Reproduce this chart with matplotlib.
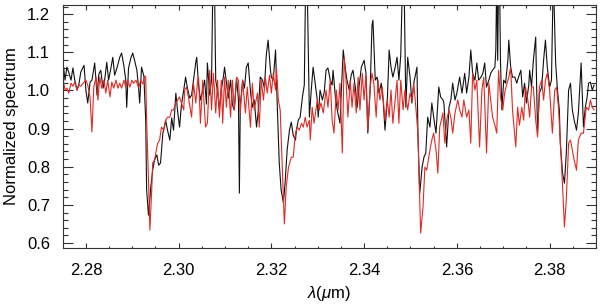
import matplotlib
matplotlib.use("Agg")
import matplotlib.pyplot as plt
from matplotlib.ticker import MultipleLocator

plt.rcParams['font.family'] = ['Liberation Sans', 'DejaVu Sans']
plt.rcParams['mathtext.fontset'] = 'custom'
plt.rcParams['mathtext.it'] = 'Liberation Sans:italic'
plt.rcParams['mathtext.rm'] = 'Liberation Sans'

# Observed spectrum (black)
obs_wl = [
    2.2751, 2.2755, 2.2759, 2.2763, 2.2768, 2.2772, 2.2776, 2.2781, 2.2785, 2.2789,
    2.2796, 2.2800, 2.2804, 2.2809, 2.2813, 2.2819, 2.2824, 2.2828, 2.2832, 2.2837,
    2.2841, 2.2845, 2.2849, 2.2854, 2.2858, 2.2862, 2.2867, 2.2873, 2.2877, 2.2882,
    2.2886, 2.2888, 2.2892, 2.2897, 2.2901, 2.2905, 2.2910, 2.2914, 2.2916, 2.2920,
    2.2925, 2.2929, 2.2931, 2.2935, 2.2940, 2.2944, 2.2948, 2.2953, 2.2957, 2.2961,
    2.2966, 2.2970, 2.2972, 2.2976, 2.2981, 2.2985, 2.2989, 2.2994, 2.2998, 2.3002,
    2.3006, 2.3011, 2.3015, 2.3019, 2.3024, 2.3028, 2.3032, 2.3037, 2.3039, 2.3043,
    2.3047, 2.3052, 2.3056, 2.3060, 2.3062, 2.3067, 2.3071, 2.3074, 2.3077, 2.3080,
    2.3084, 2.3088, 2.3092, 2.3097, 2.3099, 2.3103, 2.3107, 2.3112, 2.3116, 2.3120,
    2.3125, 2.3129, 2.3131, 2.3133, 2.3138, 2.3142, 2.3146, 2.3150, 2.3155, 2.3159,
    2.3163, 2.3168, 2.3172, 2.3176, 2.3181, 2.3185, 2.3189, 2.3193, 2.3198, 2.3200,
    2.3204, 2.3209, 2.3213, 2.3217, 2.3221, 2.3226, 2.3230, 2.3234, 2.3239, 2.3243,
    2.3247, 2.3252, 2.3254, 2.3258, 2.3262, 2.3267, 2.3271, 2.3274, 2.3277, 2.3282,
    2.3286, 2.3290, 2.3295, 2.3299, 2.3301, 2.3305, 2.3310, 2.3314, 2.3318, 2.3322,
    2.3327, 2.3331, 2.3333, 2.3338, 2.3342, 2.3348, 2.3350, 2.3355, 2.3359, 2.3363,
    2.3368, 2.3372, 2.3376, 2.3381, 2.3385, 2.3389, 2.3394, 2.3400, 2.3404, 2.3408,
    2.3413, 2.3417, 2.3419, 2.3424, 2.3428, 2.3432, 2.3437, 2.3441, 2.3445, 2.3450,
    2.3454, 2.3458, 2.3462, 2.3467, 2.3471, 2.3475, 2.3479, 2.3483, 2.3486, 2.3490,
    2.3494, 2.3499, 2.3503, 2.3507, 2.3514, 2.3516, 2.3520, 2.3525, 2.3529, 2.3533,
    2.3537, 2.3542, 2.3546, 2.3550, 2.3555, 2.3561, 2.3565, 2.3570, 2.3572, 2.3578,
    2.3583, 2.3587, 2.3591, 2.3596, 2.3600, 2.3606, 2.3611, 2.3617, 2.3621, 2.3626,
    2.3630, 2.3634, 2.3639, 2.3643, 2.3647, 2.3652, 2.3656, 2.3660, 2.3664, 2.3669,
    2.3673, 2.3677, 2.3682, 2.3684, 2.3686, 2.3688, 2.3690, 2.3692, 2.3694, 2.3697,
    2.3701, 2.3705, 2.3710, 2.3712, 2.3716, 2.3720, 2.3725, 2.3729, 2.3733, 2.3738,
    2.3742, 2.3746, 2.3750, 2.3755, 2.3757, 2.3761, 2.3765, 2.3770, 2.3774, 2.3778,
    2.3783, 2.3787, 2.3791, 2.3795, 2.3800, 2.3804, 2.3808, 2.3813, 2.3817, 2.3821,
    2.3823, 2.3828, 2.3832, 2.3836, 2.3841, 2.3845, 2.3849, 2.3853, 2.3858, 2.3862,
    2.3868, 2.3873, 2.3877, 2.3881, 2.3884, 2.3888, 2.3892, 2.3896,
]
obs_flux = [
    1.072, 1.027, 1.061, 1.048, 1.027, 1.059, 1.027, 1.001, 1.017, 1.048,
    1.066, 1.001, 0.967, 1.022, 1.027, 1.072, 0.988, 1.043, 1.053, 1.006,
    1.032, 1.074, 1.027, 1.059, 1.087, 1.040, 1.059, 1.087, 1.098, 1.064,
    1.027, 0.956, 1.059, 1.085, 1.098, 1.079, 1.053, 1.001, 0.967, 1.061,
    1.038, 0.922, 0.739, 0.673, 0.747, 0.791, 0.817, 0.831, 0.804, 0.810,
    0.888, 0.909, 0.922, 0.896, 0.870, 0.928, 0.896, 0.993, 0.943, 0.904,
    0.962, 1.001, 1.035, 1.006, 0.980, 0.988, 1.027, 1.074, 1.087, 1.014,
    0.975, 1.001, 1.027, 0.964, 1.072, 0.988, 1.027, 1.300, 1.300, 1.027,
    0.996, 0.949, 1.001, 1.040, 1.061, 1.022, 0.980, 1.027, 0.962, 0.949,
    1.032, 0.975, 0.731, 0.962, 1.027, 1.006, 1.061, 1.072, 0.996, 0.956,
    0.975, 0.904, 0.949, 1.035, 1.027, 1.006, 1.093, 1.132, 1.053, 1.035,
    1.027, 1.106, 0.949, 0.810, 0.739, 0.705, 0.765, 0.844, 0.896, 0.917,
    0.883, 0.870, 0.896, 0.922, 0.930, 0.983, 1.014, 1.300, 1.300, 0.930,
    1.001, 1.061, 1.014, 0.975, 0.930, 1.001, 0.975, 0.996, 1.053, 1.059,
    1.027, 1.014, 1.053, 0.983, 0.949, 0.914, 0.975, 1.106, 1.061, 1.027,
    1.001, 1.040, 1.053, 1.009, 0.956, 1.009, 1.061, 1.079, 1.045, 0.888,
    1.001, 1.171, 1.184, 1.027, 1.035, 0.993, 1.019, 0.975, 0.896, 0.975,
    1.106, 1.061, 1.035, 1.061, 1.087, 1.027, 1.093, 1.300, 1.300, 0.956,
    1.087, 1.035, 0.967, 1.019, 1.061, 0.888, 0.731, 0.799, 0.825, 0.836,
    0.930, 0.904, 0.967, 0.930, 0.888, 1.009, 0.983, 0.975, 0.967, 0.852,
    0.956, 0.975, 1.019, 0.975, 0.993, 1.035, 0.993, 1.045, 0.993, 1.035,
    1.106, 1.045, 1.027, 1.072, 1.027, 1.035, 1.045, 1.072, 1.009, 1.027,
    1.045, 1.053, 1.061, 1.106, 1.300, 1.079, 1.300, 1.300, 1.079, 0.949,
    1.027, 1.019, 1.079, 1.132, 1.061, 1.035, 1.035, 1.019, 1.035, 1.053,
    0.983, 1.019, 0.967, 1.014, 1.053, 1.009, 1.079, 1.140, 0.888, 0.993,
    1.009, 1.079, 1.132, 1.061, 1.009, 1.027, 1.300, 1.072, 1.001, 0.949,
    0.862, 0.783, 0.757, 0.836, 1.001, 1.019, 0.949, 0.922, 0.896, 0.941,
    1.072, 0.904, 0.956, 0.983, 1.019, 1.022, 1.001, 1.014,
]

# Model spectrum (red)
mod_wl = [
    2.2751, 2.2755, 2.2759, 2.2763, 2.2768, 2.2772, 2.2776, 2.2781, 2.2785, 2.2789,
    2.2796, 2.2800, 2.2804, 2.2809, 2.2813, 2.2817, 2.2822, 2.2826, 2.2830, 2.2834,
    2.2839, 2.2843, 2.2847, 2.2852, 2.2856, 2.2860, 2.2865, 2.2869, 2.2873, 2.2877,
    2.2882, 2.2886, 2.2890, 2.2895, 2.2899, 2.2903, 2.2908, 2.2914, 2.2918, 2.2923,
    2.2927, 2.2929, 2.2931, 2.2935, 2.2938, 2.2942, 2.2944, 2.2948, 2.2953, 2.2955,
    2.2959, 2.2963, 2.2968, 2.2972, 2.2976, 2.2981, 2.2985, 2.2989, 2.2994, 2.2998,
    2.3002, 2.3006, 2.3011, 2.3013, 2.3017, 2.3021, 2.3028, 2.3032, 2.3037, 2.3041,
    2.3043, 2.3047, 2.3052, 2.3058, 2.3062, 2.3067, 2.3071, 2.3075, 2.3080, 2.3084,
    2.3088, 2.3092, 2.3095, 2.3099, 2.3103, 2.3107, 2.3112, 2.3116, 2.3120, 2.3125,
    2.3129, 2.3133, 2.3138, 2.3144, 2.3148, 2.3155, 2.3159, 2.3163, 2.3170, 2.3174,
    2.3178, 2.3183, 2.3187, 2.3191, 2.3196, 2.3200, 2.3204, 2.3209, 2.3211, 2.3215,
    2.3219, 2.3224, 2.3228, 2.3232, 2.3237, 2.3241, 2.3243, 2.3247, 2.3252, 2.3256,
    2.3260, 2.3265, 2.3269, 2.3273, 2.3277, 2.3282, 2.3284, 2.3288, 2.3292, 2.3299,
    2.3303, 2.3307, 2.3312, 2.3318, 2.3322, 2.3327, 2.3331, 2.3335, 2.3340, 2.3344,
    2.3348, 2.3353, 2.3357, 2.3361, 2.3365, 2.3370, 2.3374, 2.3378, 2.3383, 2.3387,
    2.3391, 2.3396, 2.3400, 2.3404, 2.3408, 2.3413, 2.3417, 2.3421, 2.3426, 2.3430,
    2.3434, 2.3439, 2.3445, 2.3450, 2.3454, 2.3458, 2.3462, 2.3467, 2.3471, 2.3475,
    2.3479, 2.3484, 2.3488, 2.3494, 2.3499, 2.3503, 2.3507, 2.3512, 2.3516, 2.3518,
    2.3522, 2.3527, 2.3531, 2.3535, 2.3542, 2.3546, 2.3550, 2.3555, 2.3559, 2.3563,
    2.3570, 2.3574, 2.3578, 2.3583, 2.3587, 2.3591, 2.3596, 2.3602, 2.3606, 2.3611,
    2.3615, 2.3621, 2.3626, 2.3630, 2.3634, 2.3639, 2.3643, 2.3649, 2.3654, 2.3658,
    2.3664, 2.3669, 2.3673, 2.3677, 2.3682, 2.3686, 2.3690, 2.3694, 2.3699, 2.3703,
    2.3707, 2.3712, 2.3716, 2.3720, 2.3727, 2.3731, 2.3735, 2.3740, 2.3744, 2.3748,
    2.3753, 2.3757, 2.3761, 2.3765, 2.3770, 2.3774, 2.3778, 2.3783, 2.3787, 2.3791,
    2.3795, 2.3800, 2.3806, 2.3811, 2.3815, 2.3819, 2.3823, 2.3828, 2.3832, 2.3836,
    2.3841, 2.3845, 2.3849, 2.3853, 2.3858, 2.3862, 2.3868, 2.3873, 2.3879, 2.3884,
    2.3888, 2.3892, 2.3896,
]
mod_flux = [
    1.027, 1.001, 1.006, 0.993, 1.019, 1.011, 1.022, 1.001, 1.014, 1.011,
    1.022, 1.027, 1.014, 0.983, 0.891, 1.009, 1.035, 0.975, 1.035, 1.006,
    1.027, 0.993, 1.027, 0.983, 1.022, 1.006, 1.027, 1.006, 1.019, 1.006,
    1.027, 1.009, 1.027, 1.009, 1.027, 1.019, 1.027, 1.006, 1.027, 1.017,
    1.038, 1.035, 0.922, 0.765, 0.634, 0.739, 0.810, 0.817, 0.852, 0.862,
    0.870, 0.904, 0.896, 0.922, 0.930, 0.930, 0.949, 0.949, 0.967, 0.975,
    0.983, 0.967, 0.949, 1.001, 1.009, 0.983, 0.930, 1.019, 0.967, 1.027,
    1.035, 0.914, 1.027, 0.904, 0.914, 1.053, 0.949, 1.045, 0.941, 1.027,
    0.930, 1.027, 0.914, 1.035, 0.956, 1.027, 0.930, 1.027, 0.949, 1.035,
    1.027, 0.941, 1.027, 0.941, 1.009, 0.904, 1.019, 0.949, 0.993, 0.904,
    1.027, 0.975, 1.035, 0.993, 1.040, 0.993, 1.045, 1.001, 1.059, 0.975,
    0.949, 0.783, 0.650, 0.747, 0.799, 0.817, 0.825, 0.825, 0.888, 0.904,
    0.896, 0.914, 0.904, 0.930, 0.904, 0.922, 0.870, 0.956, 0.914, 0.975,
    0.949, 0.967, 0.941, 1.001, 0.956, 1.027, 0.922, 0.888, 1.001, 0.949,
    1.019, 0.836, 1.087, 1.027, 0.930, 1.027, 0.956, 1.019, 0.941, 1.035,
    0.949, 1.045, 0.975, 1.040, 0.896, 1.009, 1.045, 1.019, 0.930, 1.027,
    0.975, 1.009, 0.922, 0.975, 0.930, 1.001, 0.914, 0.975, 1.027, 0.914,
    1.027, 0.949, 1.001, 0.949, 0.993, 0.975, 1.019, 0.949, 0.888, 0.791,
    0.626, 0.694, 0.799, 0.791, 0.844, 0.870, 0.888, 0.844, 0.783, 0.904,
    0.941, 0.862, 0.922, 0.949, 0.930, 0.888, 0.941, 0.975, 0.949, 0.930,
    0.975, 0.930, 0.949, 0.862, 1.045, 1.001, 1.027, 0.852, 1.001, 1.035,
    0.836, 1.019, 0.975, 0.930, 0.909, 0.888, 1.053, 0.983, 0.949, 0.993,
    1.014, 1.035, 1.061, 0.949, 0.852, 0.956, 0.909, 0.956, 0.922, 1.009,
    0.975, 0.930, 1.009, 1.009, 0.922, 0.878, 1.009, 1.027, 0.975, 1.027,
    1.045, 1.001, 0.888, 1.001, 1.009, 0.956, 0.870, 0.747, 0.642, 0.713,
    0.862, 0.870, 0.844, 0.817, 0.791, 0.870, 0.888, 0.888, 0.956, 0.949,
    0.975, 0.956, 0.949,
]

x_ticks = [2.28, 2.30, 2.32, 2.34, 2.36, 2.38]
y_ticks = [0.6, 0.7, 0.8, 0.9, 1.0, 1.1, 1.2]

fig = plt.figure(figsize=(6.0, 3.07), dpi=100)
ax = fig.add_axes([0.1045, 0.1922, 0.8888, 0.7915])

ax.plot(obs_wl, obs_flux, color='#111111', lw=0.8)
ax.plot(mod_wl, mod_flux, color='#e02a24', lw=0.8)

ax.set_xlim(2.275, 2.39)
ax.set_ylim(0.587, 1.224)
ax.set_xticks(x_ticks)
ax.set_xticklabels([f"{t:.2f}" for t in x_ticks])
ax.set_yticks(y_ticks)
ax.set_yticklabels([f"{t:.1f}" for t in y_ticks])
ax.xaxis.set_minor_locator(MultipleLocator(0.005))
ax.yaxis.set_minor_locator(MultipleLocator(0.02))

ax.tick_params(axis='both', which='both', direction='in', top=True, right=True,
               labelsize=12, width=0.8, color='#333333')
ax.tick_params(axis='x', which='major', length=3.6, pad=11)
ax.tick_params(axis='x', which='minor', length=1.8)
ax.tick_params(axis='y', which='major', length=7.5, pad=9)
ax.tick_params(axis='y', which='minor', length=3.7)
for s in ax.spines.values():
    s.set_linewidth(0.8)
    s.set_color('#333333')

ax.set_xlabel(r'$\lambda$($\mu$m)', fontsize=12, labelpad=4)
ax.set_ylabel('Normalized spectrum', fontsize=12, labelpad=6)

fig.savefig('out.png', dpi=100)
